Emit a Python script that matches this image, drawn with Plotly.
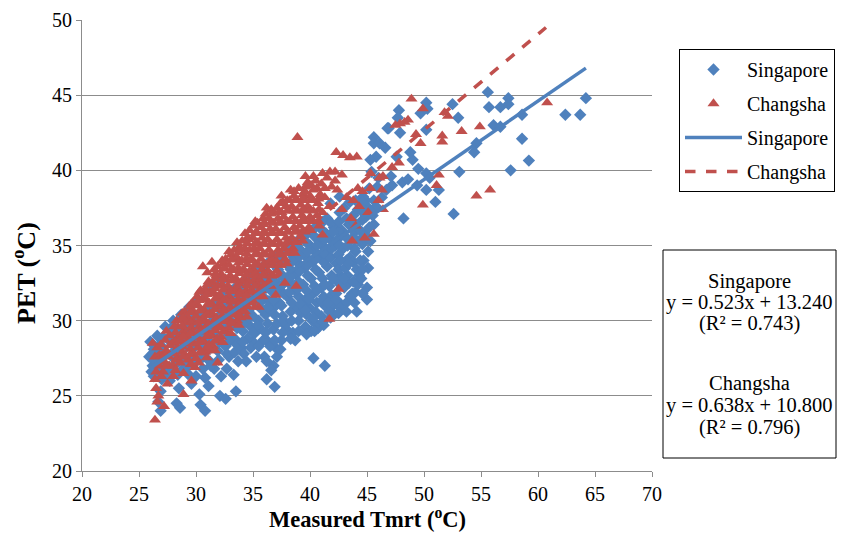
import plotly.graph_objects as go

# ---------------- data ----------------
# Singapore: (Measured Tmrt, PET)
sg_points = [
    (25.9,27.6),(26.0,28.6),(26.2,27.0),(26.3,28.1),(26.1,26.6),
    (26.7,27.4),(26.8,28.4),(26.6,29.0),(26.9,26.8),(26.7,24.6),(26.9,24.0),(26.9,25.3),(27.0,26.1),
    (27.4,27.8),(27.5,28.8),(27.3,29.6),(27.6,26.9),(27.7,26.0),
    (28.1,28.3),(28.2,29.3),(28.0,30.0),(28.3,27.2),(28.3,24.5),(28.6,24.2),(28.4,26.4),
    (28.8,28.6),(28.9,29.6),(28.7,30.4),(29.0,27.6),(28.9,26.8),
    (29.5,29.0),(29.6,30.0),(29.4,30.9),(29.3,26.45),(29.6,25.8),(29.7,27.5),(29.8,28.2),
    (30.2,29.4),(30.3,30.4),(30.1,31.4),(30.4,28.3),(30.3,25.1),(30.4,24.4),(30.8,24.0),(30.6,26.8),(30.8,26.2),(30.5,27.5),
    (30.9,29.8),(31.0,30.8),(30.8,31.8),(31.1,28.7),(31.1,25.65),(31.2,27.3),
    (31.6,30.2),(31.7,31.2),(31.5,32.2),(31.8,29.1),(31.6,26.8),(31.9,28.0),(32.1,25.0),
    (32.3,30.6),(32.4,31.6),(32.2,32.6),(32.5,29.5),(32.6,24.8),(32.7,26.8),(32.6,28.3),(32.9,27.6),
    (33.0,31.0),(33.1,32.0),(33.2,29.9),(33.4,28.8),(33.5,25.3),(33.7,27.3),
    (33.7,31.4),(33.8,32.4),(33.9,30.3),(34.0,28.2),(34.2,27.8),(34.1,29.3),
    (34.4,31.8),(34.5,32.8),(34.6,30.7),(34.8,29.6),(35.0,28.6),
    (35.1,32.2),(35.2,33.2),(35.3,31.1),(35.2,29.2),(35.5,30.0),
    (35.8,32.6),(35.9,33.6),(36.0,31.5),(36.2,28.7),(36.0,27.6),(35.9,28.7),(36.1,30.4),
    (36.5,33.0),(36.6,34.0),(36.7,31.9),(36.8,29.4),(36.8,27.0),(36.6,26.7),(36.2,26.1),(36.9,25.6),(36.4,30.8),
    (37.2,33.4),(37.3,34.4),(37.4,32.3),(37.5,28.7),(37.3,31.2),(37.6,30.3),(37.1,29.8),
    (37.9,33.8),(38.0,34.8),(38.1,32.7),(38.1,29.3),(38.0,31.6),(38.3,30.6),
    (38.6,34.2),(38.7,35.2),(38.8,33.1),(38.7,28.7),(38.7,32.0),(38.9,30.9),(38.5,29.2),
    (39.3,34.6),(39.4,35.6),(39.5,33.5),(39.6,29.6),(39.4,32.4),(39.6,31.4),(39.2,30.5),
    (40.0,35.0),(40.1,36.0),(40.2,33.9),(40.1,29.3),(40.2,30.0),(40.1,32.8),(40.3,31.8),(39.9,30.9),(40.3,27.5),
    (40.7,35.4),(40.8,36.4),(40.9,34.3),(40.7,29.5),(40.8,33.2),(41.0,32.2),(40.6,31.2),(41.3,27.0),(41.0,30.3),
    (41.4,35.8),(41.5,36.8),(41.6,34.7),(41.2,29.7),(41.5,33.6),(41.7,32.3),(41.3,31.0),(41.8,37.8),
    (42.1,36.2),(42.2,35.0),(42.3,33.8),(42.0,31.0),(42.4,32.6),(42.1,30.4),
    (42.8,36.0),(42.9,34.8),(42.7,33.0),(42.7,31.1),(43.0,32.2),(42.6,37.2),
    (43.3,33.0),(43.5,34.2),(43.6,35.4),(43.2,31.2),(43.7,31.8),(43.4,36.4),
    (44.0,34.6),(44.6,35.1),(44.0,31.9),(44.1,30.6),(44.3,33.0),(44.6,36.7),(44.8,35.75),(44.2,32.4),
    (45.1,33.5),(45.0,32.2),(45.0,31.4),(45.0,37.6),(44.7,34.0),
    (43.0,37.5),(44.0,38.0),(45.2,38.8),(46.0,39.5),(43.8,37.0),(42.5,35.9),(44.65,38.25),(42.6,38.25),
    (45.6,38.0),(46.3,38.2),(45.9,38.9),(47.2,39.0),(47.1,39.6),(45.6,36.4),(45.6,42.2),(45.6,41.8),
    (46.6,41.5),(45.8,40.9),(47.6,40.9),(46.9,42.8),(47.9,42.5),(47.8,44.0),(47.7,43.5),(49.0,40.7),
    (49.5,40.1),(50.2,39.8),(50.5,39.5),(48.1,39.2),(48.6,39.4),(49.4,39.0),(50.2,38.7),(48.2,36.8),
    (50.2,44.5),(50.3,44.1),(50.2,42.7),(49.7,43.8),(53.0,43.5),(52.5,44.4),(53.1,39.9),(52.6,37.1),
    (51.0,37.9),(51.3,38.7),(54.6,41.8),(54.4,41.2),(56.1,43.0),(56.7,42.9),(55.6,45.2),(55.7,44.2),
    (56.7,44.2),(57.4,44.8),(57.4,44.4),(58.6,43.7),(62.4,43.7),(63.7,43.7),(64.2,44.8),(58.6,42.1),
    (59.2,40.65),(57.6,40.0),(48.8,41.2),(46.8,42.8),(46.1,41.8),(45.3,40.7),(45.4,39.9),(46.7,38.7),
    (26.4,27.3),(26.5,28.0),(27.0,27.6),(27.1,28.9),(27.9,27.6),(27.8,29.5),(28.5,27.9),(28.6,29.0),
    (29.2,28.3),(29.1,29.4),(29.9,28.8),(29.9,29.8),(30.6,29.1),(30.6,30.0),(31.3,29.5),(31.3,30.4),
    (31.3,28.2),(32.0,29.9),(32.0,30.8),(32.0,28.6),(32.7,30.3),(32.8,31.2),(32.8,29.0),(33.4,30.7),
    (33.5,31.6),(33.6,29.5),(34.1,31.0),(34.2,32.0),(34.3,29.9),(34.5,28.8),(34.8,31.4),(34.9,32.4),
    (35.0,30.3),(35.5,31.8),(35.6,32.8),(35.7,30.8),(35.6,29.5),(36.2,32.2),(36.3,33.2),(36.4,31.3),
    (36.3,29.8),(36.9,32.6),(37.0,33.6),(37.0,31.0),(37.0,28.2),(37.6,33.0),(37.7,34.0),(37.7,31.8),
    (37.8,29.7),(38.3,33.4),(38.4,34.4),(38.4,32.3),(38.4,31.2),(39.0,33.8),(39.0,34.8),(39.0,32.6),
    (39.0,31.6),(39.0,30.0),(39.7,34.2),(39.7,35.2),(39.8,33.0),(39.7,32.0),(39.7,30.4),(40.4,34.6),
    (40.4,35.6),(40.5,33.4),(40.4,32.3),(40.5,30.6),(40.5,29.8),(41.1,35.0),(41.1,36.0),(41.2,33.9),
    (41.1,32.8),(41.2,31.6),(41.8,35.4),(41.8,34.2),(41.9,33.0),(41.9,31.7),(41.7,30.6),(42.5,34.4),
    (42.4,35.4),(42.5,33.4),(42.3,31.8),(42.6,30.9),(43.1,35.6),(43.2,34.0),(43.1,33.5),(43.4,32.5),
    (43.9,35.9),(43.8,33.9),(43.9,34.8),(44.4,34.0),(44.4,36.0),(44.9,36.9),(44.5,37.3),(43.5,37.9),
    (44.9,38.0),(45.5,37.0),(45.8,37.6),
    (26.3,26.3),(26.2,27.8),(27.2,27.1),(27.1,28.2),(27.2,26.4),(27.9,26.6),(27.95,28.9),(28.0,27.9),
    (28.5,27.3),(28.45,29.4),(28.5,25.5),(29.2,27.0),(29.25,29.7),(29.2,28.8),(29.9,27.2),(29.95,30.3),
    (30.0,26.3),(30.6,28.4),(30.65,30.6),(30.7,27.8),(31.3,27.0),(31.35,31.0),(31.4,29.9),(32.0,27.4),
    (32.05,31.3),(32.1,30.3),(32.2,26.3),(32.7,27.8),(32.75,31.7),(32.8,30.7),(32.9,28.6),(33.4,27.9),
    (33.45,32.2),(33.5,31.1),(33.6,28.4),(33.3,26.4),(34.1,28.6),(34.15,32.6),(34.2,31.5),(34.3,30.4),
    (34.4,27.3),(34.8,28.2),(34.85,33.0),(34.9,31.9),(34.7,30.2),(35.0,29.2),(35.5,28.3),(35.55,33.4),
    (35.4,32.3),(35.4,29.7),(35.6,31.2),(35.3,27.6),(36.2,27.3),(36.25,33.8),(36.3,32.6),(36.1,29.2),
    (36.3,30.9),(36.5,28.3),(36.9,28.7),(36.95,34.2),(37.0,32.0),(36.9,30.4),(36.8,31.4),(37.1,27.6),
    (37.6,29.2),(37.65,34.6),(37.6,32.4),(37.5,31.0),(37.7,30.0),(37.4,28.1),(38.3,28.8),(38.35,35.0),
    (38.3,32.9),(38.2,31.9),(38.4,30.0),(38.5,34.0),(39.0,29.3),(39.05,35.4),(39.1,33.3),(39.2,31.1),
    (39.1,34.3),(38.9,32.1),(39.7,29.1),(39.75,35.8),(39.8,33.7),(39.9,31.4),(39.8,34.6),(39.6,30.7),
    (40.4,29.3),(40.45,36.2),(40.5,34.1),(40.6,32.0),(40.6,35.0),(40.3,30.2),(41.1,29.9),(41.15,36.6),
    (41.2,34.5),(41.3,32.4),(41.3,35.4),(41.0,31.3),(41.8,30.2),(41.85,36.5),(41.9,34.8),(42.0,32.8),
    (42.0,35.9),(41.6,31.2),(42.5,30.5),(42.55,36.6),(42.6,35.0),(42.7,32.4),(42.7,34.0),(42.3,31.4),
    (43.2,30.6),(43.2,36.8),(43.3,35.0),(43.4,33.8),(43.5,31.6),(43.0,32.8),(43.9,31.2),(43.9,36.5),
    (44.0,35.4),(44.1,33.4),(43.8,32.6),(44.2,37.4),(44.6,31.8),(44.6,33.4),(44.7,35.6),(44.5,32.8),
    (44.6,37.9),(45.1,34.6),(45.2,36.2),(45.3,37.3),(45.3,35.3),
]

# Changsha: (Measured Tmrt, PET)
cs_points = [
    (26.2,28.5),(26.4,26.1),(26.5,25.5),(26.7,25.0),(27.2,24.3),(26.4,23.4),(27.5,25.8),(26.6,24.6),
    (26.4,27.6),(26.6,28.2),(26.8,27.0),(26.5,26.6),
    (27.2,27.3),(27.4,28.0),(27.3,28.7),(27.1,26.6),(27.6,27.6),(27.7,29.0),
    (28.0,27.0),(28.1,27.8),(27.9,28.5),(28.2,29.2),(28.3,30.0),(28.0,26.3),
    (28.6,27.2),(28.8,27.9),(28.7,28.6),(28.9,29.3),(28.6,30.0),(28.8,30.5),(28.9,26.5),(28.9,25.1),
    (29.3,27.4),(29.5,28.1),(29.4,28.8),(29.6,29.5),(29.3,30.2),(29.5,30.9),(29.6,26.0),(29.9,26.9),
    (30.0,27.5),(30.2,28.2),(30.1,28.9),(30.3,29.6),(30.0,30.3),(30.2,31.0),(30.1,31.6),(30.6,33.6),
    (30.8,27.9),(30.7,28.6),(30.9,29.3),(30.8,30.0),(30.7,30.7),(30.9,31.4),(30.8,32.1),(31.4,33.9),
    (31.5,28.3),(31.4,29.0),(31.6,29.7),(31.5,30.4),(31.4,31.1),(31.6,31.8),(31.5,32.5),(31.7,33.1),(31.1,28.0),(31.9,27.2),
    (32.2,28.9),(32.1,29.6),(32.3,30.3),(32.2,31.0),(32.1,31.7),(32.3,32.4),(32.2,33.1),(32.4,33.8),
    (32.9,29.5),(32.8,30.2),(33.0,30.9),(32.9,31.6),(32.8,32.3),(33.0,33.0),(32.9,33.7),(33.1,34.4),
    (33.6,30.0),(33.5,30.7),(33.7,31.4),(33.6,32.1),(33.5,32.8),(33.7,33.5),(33.6,34.2),(33.8,34.9),(33.2,30.4),(33.9,30.2),
    (34.3,30.6),(34.2,31.3),(34.4,32.0),(34.3,32.7),(34.2,33.4),(34.4,34.1),(34.3,34.8),(34.5,35.5),
    (35.0,31.3),(34.9,32.0),(35.1,32.7),(35.0,33.4),(34.9,34.1),(35.1,34.8),(35.0,35.5),(35.0,36.3),(35.5,30.9),
    (35.7,32.0),(35.6,32.7),(35.8,33.4),(35.7,34.1),(35.6,34.8),(35.8,35.5),(35.7,36.2),(35.9,36.8),
    (36.4,32.6),(36.3,33.3),(36.5,34.0),(36.4,34.7),(36.3,35.4),(36.5,36.1),(36.4,36.8),(36.6,37.4),(37.0,31.7),
    (37.1,33.3),(37.0,34.0),(37.2,34.7),(37.1,35.4),(37.0,36.1),(37.2,36.8),(37.1,37.5),(37.4,37.8),
    (37.8,34.1),(37.7,34.8),(37.9,35.5),(37.8,36.2),(37.7,36.9),(37.9,37.6),(37.6,37.9),(37.8,32.5),
    (38.5,34.8),(38.4,35.5),(38.6,36.2),(38.5,36.9),(38.4,37.6),(38.6,38.3),(38.8,32.3),(38.9,42.2),(38.6,38.6),
    (39.2,35.6),(39.1,36.3),(39.3,37.0),(39.2,37.7),(39.4,38.4),(39.6,39.6),(39.6,38.9),
    (39.9,36.2),(40.0,36.9),(39.8,37.6),(40.0,38.3),(40.1,39.0),(40.3,39.6),
    (40.6,37.0),(40.7,37.8),(40.6,38.8),(41.1,39.8),(40.8,36.3),
    (41.3,38.2),(41.7,37.6),(41.9,38.9),(42.2,39.9),(42.4,38.7),(42.2,39.3),(42.3,41.2),(42.9,41.0),
    (43.5,40.85),(42.5,32.1),(41.7,30.1),(42.8,37.4),(43.2,38.2),(43.6,36.8),(44.0,36.3),(43.7,35.3),
    (44.8,35.5),(45.6,35.75),(44.3,37.6),(44.6,38.6),(45.3,39.8),(45.1,37.2),(46.3,38.7),(46.4,39.6),
    (47.2,40.2),(47.8,40.5),(46.0,38.0),(41.1,35.7),(41.1,37.2),(42.8,39.7),(44.2,38.8),(45.3,38.8),
    (46.1,39.5),(43.8,38.0),(46.4,37.4),(44.1,40.9),(41.75,39.9),
    (47.9,43.1),(48.6,43.35),(48.9,44.75),(49.9,44.1),(49.3,42.4),(49.7,41.8),(51.6,42.3),(51.6,41.9),
    (51.8,43.85),(52.1,43.6),(53.3,42.6),(54.9,42.9),(60.8,44.5),(54.6,38.3),(55.8,38.7),(49.9,37.7),
    (51.3,39.7),(51.1,39.0),(47.5,43.0),(48.3,43.2),
    (27.65,27.0),(27.7,28.35),(28.35,27.5),(28.4,28.2),(28.45,28.9),(28.4,29.6),
    (29.05,27.7),(29.1,28.5),(29.0,29.1),(29.15,29.9),(29.0,30.6),
    (29.75,27.8),(29.8,28.5),(29.7,29.2),(29.8,29.9),(29.75,30.6),(29.7,31.2),
    (30.45,27.9),(30.5,28.6),(30.4,29.3),(30.5,30.0),(30.45,30.7),(30.5,31.4),(30.4,32.0),
    (31.15,28.4),(31.2,29.1),(31.1,29.8),(31.2,30.5),(31.15,31.2),(31.2,31.9),(31.1,32.6),(31.0,33.2),
    (31.85,28.8),(31.9,29.5),(31.8,30.2),(31.9,30.9),(31.85,31.6),(31.9,32.3),(31.8,33.0),(31.9,33.6),
    (32.55,29.3),(32.6,30.0),(32.5,30.7),(32.6,31.4),(32.55,32.1),(32.6,32.8),(32.5,33.5),(32.6,34.1),
    (33.25,29.8),(33.3,30.6),(33.2,31.3),(33.3,32.0),(33.25,32.7),(33.3,33.4),(33.2,34.1),(33.35,34.7),
    (33.95,30.6),(34.0,31.2),(33.9,31.9),(34.0,32.6),(33.95,33.3),(34.0,34.0),(33.9,34.7),(34.05,35.3),
    (34.65,31.2),(34.7,31.9),(34.6,32.6),(34.7,33.3),(34.65,34.0),(34.7,34.7),(34.6,35.4),(34.7,36.0),
    (35.35,31.8),(35.4,32.4),(35.3,33.1),(35.4,33.8),(35.35,34.5),(35.4,35.2),(35.3,35.9),(35.4,36.5),
    (36.05,32.3),(36.1,33.0),(36.0,33.7),(36.1,34.4),(36.05,35.1),(36.1,35.8),(36.0,36.5),(36.1,37.1),
    (36.75,33.0),(36.8,33.7),(36.7,34.4),(36.8,35.1),(36.75,35.8),(36.8,36.5),(36.7,37.2),
    (37.45,33.7),(37.5,34.4),(37.4,35.1),(37.5,35.8),(37.45,36.5),(37.5,37.2),
    (38.15,34.5),(38.2,35.2),(38.1,35.9),(38.2,36.6),(38.15,37.3),(38.2,38.0),
    (38.85,35.2),(38.9,35.9),(38.8,36.6),(38.9,37.3),(38.85,38.0),
    (39.55,35.9),(39.6,36.6),(39.5,37.3),(39.6,38.0),(39.55,38.6),
    (40.25,36.6),(40.3,37.3),(40.2,38.0),(40.3,38.7),(40.9,38.4),(41.0,39.1),
    (26.95,26.3),(27.0,27.65),(26.9,28.4),(27.35,27.0),(27.3,27.7),(27.4,29.3),
    (28.2,26.7),(28.25,27.4),(28.2,28.6),(28.1,29.6),
    (28.85,27.6),(28.8,28.25),(28.85,28.95),(28.8,29.65),(28.85,30.2),
    (29.55,27.1),(29.5,27.75),(29.55,28.45),(29.5,29.15),(29.55,29.85),(29.5,30.55),(29.55,31.1),
    (30.25,27.2),(30.3,27.85),(30.25,28.55),(30.3,29.25),(30.25,29.95),(30.3,30.65),(30.25,31.35),(30.3,31.9),
    (30.95,27.55),(31.0,28.25),(30.95,28.95),(31.0,29.65),(30.95,30.35),(31.0,31.05),(30.95,31.75),(31.0,32.4),
    (31.65,28.0),(31.7,28.65),(31.65,29.35),(31.7,30.05),(31.65,30.75),(31.7,31.45),(31.65,32.15),(31.7,32.8),(31.6,33.4),
    (32.35,28.55),(32.4,29.25),(32.35,29.95),(32.4,30.65),(32.35,31.35),(32.4,32.05),(32.35,32.75),(32.4,33.45),(32.3,34.0),
    (33.05,29.15),(33.1,29.85),(33.05,30.55),(33.1,31.25),(33.05,31.95),(33.1,32.65),(33.05,33.35),(33.1,34.05),(32.9,34.6),
    (33.75,29.7),(33.8,30.35),(33.75,31.05),(33.8,31.75),(33.75,32.45),(33.8,33.15),(33.75,33.85),(33.8,34.55),(33.6,35.2),
    (34.45,30.25),(34.5,30.95),(34.45,31.65),(34.5,32.35),(34.45,33.05),(34.5,33.75),(34.45,34.45),(34.5,35.15),(34.3,35.8),
    (35.15,30.9),(35.2,31.6),(35.15,32.3),(35.2,33.0),(35.15,33.7),(35.2,34.4),(35.15,35.1),(35.2,35.8),(35.2,36.6),
    (35.85,31.6),(35.9,32.3),(35.85,33.0),(35.9,33.7),(35.85,34.4),(35.9,35.1),(35.85,35.8),(35.9,36.4),(36.2,37.5),
    (36.55,32.3),(36.6,33.0),(36.55,33.7),(36.6,34.4),(36.55,35.1),(36.6,35.8),(36.55,36.5),(36.6,37.1),
    (37.25,33.0),(37.3,33.7),(37.25,34.4),(37.3,35.1),(37.25,35.8),(37.3,36.5),(37.25,37.2),(37.5,38.3),
    (37.95,33.8),(38.0,34.5),(37.95,35.2),(38.0,35.9),(37.95,36.6),(38.0,37.3),(38.0,38.0),(38.3,38.7),
    (38.65,34.5),(38.7,35.2),(38.65,35.9),(38.7,36.6),(38.65,37.3),(38.7,38.0),(39.0,38.8),
    (39.35,35.3),(39.4,36.0),(39.35,36.7),(39.4,37.4),(39.35,38.1),(39.8,39.2),
    (40.05,36.0),(40.1,36.7),(40.05,37.4),(40.1,38.1),(40.5,39.3),
    (40.75,36.6),(40.8,37.4),(40.75,38.1),(41.3,38.8),(41.5,39.5),
]

# trend lines (endpoints)
sg_line_x = [25.9, 64.2]
sg_line_y = [26.8, 46.8]
cs_line_x = [26.2, 60.7]
cs_line_y = [27.5, 49.5]

eq_lines = ["Singapore", "y = 0.523x + 13.240", "(R² = 0.743)",
            "Changsha", "y = 0.638x + 10.800", "(R² = 0.796)"]

x_ticks = [20, 25, 30, 35, 40, 45, 50, 55, 60, 65, 70]
y_ticks = [20, 25, 30, 35, 40, 45, 50]

# ---------------- figure ----------------
BLUE = "#4F81BD"
RED = "#C0504D"
GRID = "#8C8C8C"
FONT = "Liberation Serif, Times New Roman, serif"

fig = go.Figure()
fig.add_trace(go.Scatter(
    x=[p[0] for p in sg_points], y=[p[1] for p in sg_points],
    mode="markers", name="Singapore", legendgroup="a",
    marker=dict(symbol="diamond", size=9.5, color=BLUE, line=dict(width=0))))
fig.add_trace(go.Scatter(
    x=[p[0] for p in cs_points], y=[p[1] for p in cs_points],
    mode="markers", name="Changsha", legendgroup="b",
    marker=dict(symbol="triangle-up", size=10.5, color=RED, line=dict(width=0))))
fig.add_trace(go.Scatter(
    x=sg_line_x, y=sg_line_y, mode="lines", name="Singapore", legendgroup="c",
    line=dict(color=BLUE, width=3.5)))
fig.add_trace(go.Scatter(
    x=cs_line_x, y=cs_line_y, mode="lines", name="Changsha", legendgroup="d",
    line=dict(color=RED, width=3.5, dash="dash")))

L, R, T, B = 82, 191, 20, 63
W, H = 843, 534
pw, ph = W - L - R, H - T - B

def px2x(px):
    return (px - L) / pw

def py2y(py):
    return (H - B - py) / ph

fig.update_layout(
    width=W, height=H,
    margin=dict(l=L, r=R, t=T, b=B, pad=0, autoexpand=False),
    paper_bgcolor="white", plot_bgcolor="white",
    font=dict(family=FONT, size=20, color="black"),
    showlegend=True,
    legend=dict(
        x=px2x(679), y=py2y(49), xanchor="left", yanchor="top",
        bordercolor="black", borderwidth=1, bgcolor="white",
        font=dict(family=FONT, size=20, color="black"),
        traceorder="grouped", tracegroupgap=5, itemwidth=57,
    ),
    xaxis=dict(
        range=[20, 70], tickvals=x_ticks, ticktext=[str(v) for v in x_ticks],
        showgrid=False, zeroline=False, showline=True, linecolor=GRID, linewidth=1,
        ticks="outside", ticklen=5, tickcolor=GRID, automargin=False,
        tickfont=dict(family=FONT, size=20, color="black"),
    ),
    yaxis=dict(
        range=[20, 50], tickvals=y_ticks, ticktext=[str(v) for v in y_ticks],
        showgrid=True, gridcolor=GRID, gridwidth=1, zeroline=False,
        showline=True, linecolor=GRID, linewidth=1, automargin=False,
        ticks="outside", ticklen=5, tickcolor=GRID,
        tickfont=dict(family=FONT, size=20, color="black"),
    ),
)

# axis titles
fig.add_annotation(x=px2x(367), y=py2y(518), xref="paper", yref="paper",
                   xanchor="center", yanchor="middle",
                   text="<b>Measured Tmrt (<sup>o</sup>C)</b>", showarrow=False,
                   font=dict(family=FONT, size=22.5, color="black"))
fig.add_annotation(x=px2x(24), y=py2y(273), xref="paper", yref="paper",
                   xanchor="center", yanchor="middle",
                   text="<b>PET (<sup>o</sup>C)</b>", showarrow=False, textangle=-90,
                   font=dict(family=FONT, size=26, color="black"))

# equation box
fig.add_shape(type="rect", xref="paper", yref="paper",
              x0=px2x(663), x1=px2x(836), y0=py2y(458), y1=py2y(250),
              line=dict(color="black", width=1), fillcolor="white")
eq_y = [281, 302, 323, 383, 405, 427]
for txt, yy in zip(eq_lines, eq_y):
    fig.add_annotation(x=px2x(749.5), y=py2y(yy), xref="paper", yref="paper",
                       xanchor="center", yanchor="middle",
                       text=txt, showarrow=False,
                       font=dict(family=FONT, size=20.5, color="black"))

fig.write_html("out.html")
